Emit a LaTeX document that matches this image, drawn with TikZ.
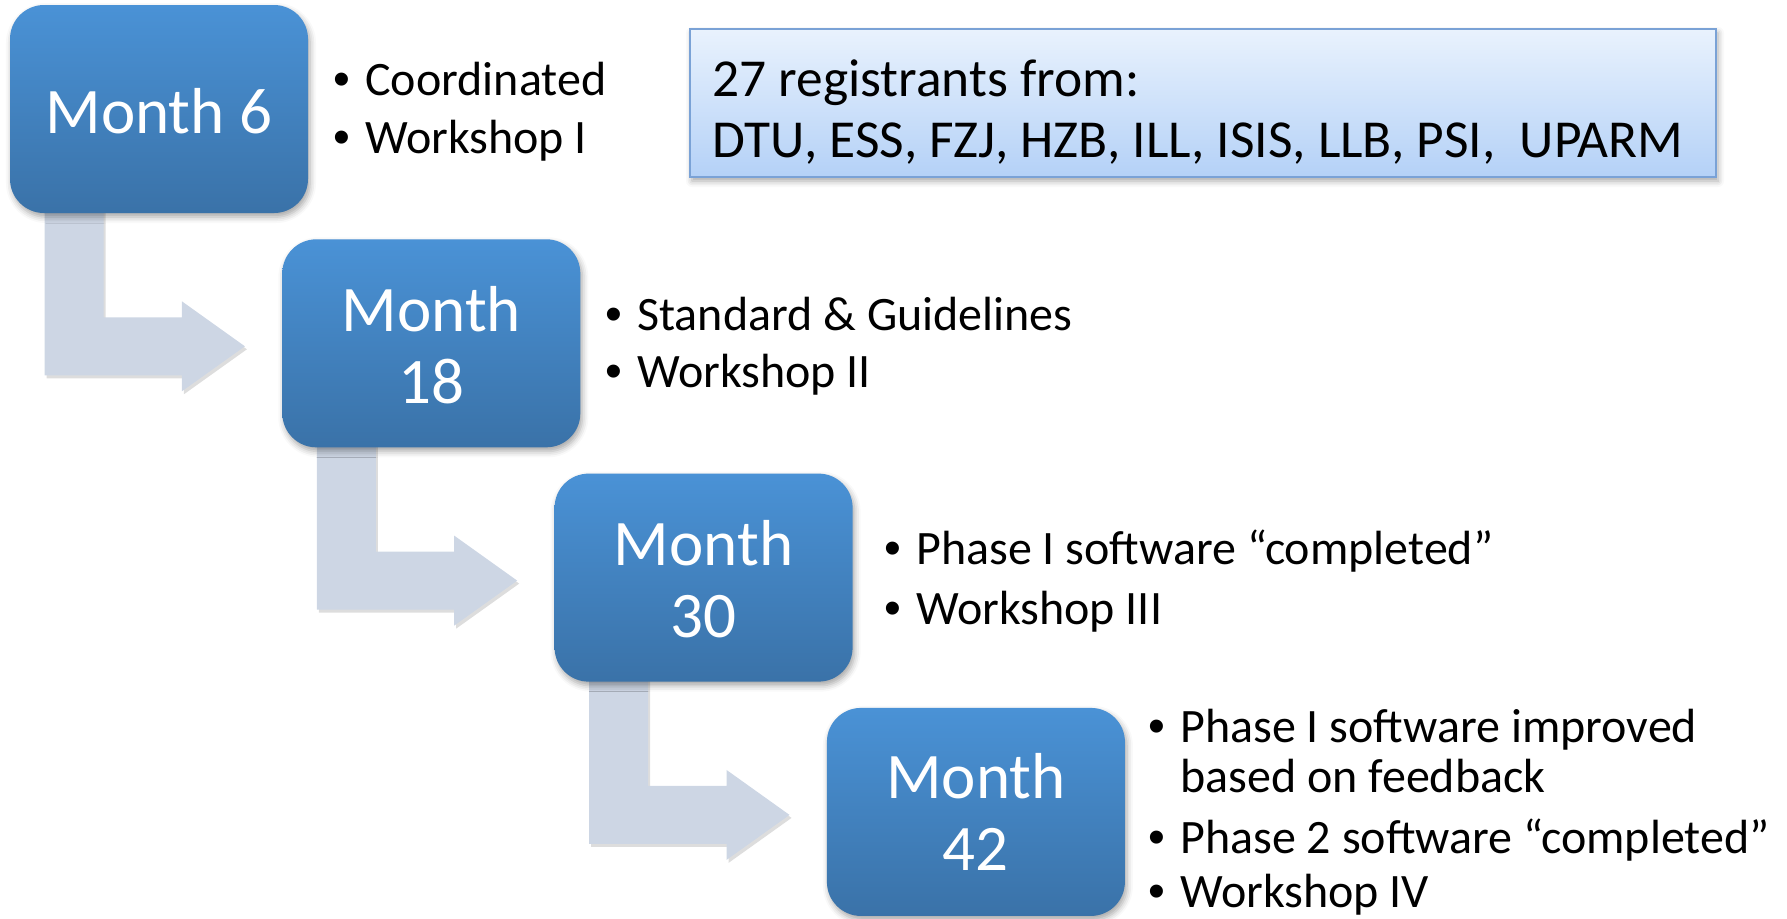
\documentclass[tikz,border=0pt]{standalone}
\usepackage{fontspec}
\setmainfont{Carlito}
\newfontfamily\bulletfont{Liberation Sans}
\usetikzlibrary{calc,shadows.blur}
\definecolor{boxtop}{RGB}{74,146,214}
\definecolor{boxbot}{RGB}{58,114,168}
\definecolor{arrowc}{RGB}{205,214,228}
\definecolor{infotop}{RGB}{233,242,253}
\definecolor{infobot}{RGB}{180,209,247}
\definecolor{infoborder}{RGB}{122,162,214}
\newcommand\bentarrow[2]{%
  \path ($(#1.south west)+(35,-10)$) coordinate (ta)
        ($(#1.south west)+(94,-10)$) coordinate (tb)
        ($(#2.west)+(-37,3)$) coordinate (tip);
  \path ($(ta |- tip)+(0,29)$) coordinate (p2)
        ($(tip)+(-63,29)$) coordinate (p3)
        ($(tip)+(-63,45)$) coordinate (p4)
        ($(tip)+(-63,-45)$) coordinate (p6)
        ($(tip)+(-63,-29)$) coordinate (p7)
        ($(tb |- tip)+(0,-29)$) coordinate (p8);
  \fill[arrowshadow, transform canvas={xshift=1pt,yshift=-1.5pt}]
    (ta) -- (p2) -- (p3) -- (p4) -- (tip) -- (p6) -- (p7) -- (p8) -- (tb) -- cycle;
  \fill[steparrow]
    (ta) -- (p2) -- (p3) -- (p4) -- (tip) -- (p6) -- (p7) -- (p8) -- (tb) -- cycle;}
\newcommand\bul{\makebox[16pt][l]{\bulletfont •}}
\begin{document}
\begin{tikzpicture}[x=0.5pt,y=-0.5pt,
  slot/.style={rectangle, minimum width=149pt, minimum height=104pt, inner sep=0pt},
  mbox/.style={rectangle, rounded corners=17pt, minimum width=149pt, minimum height=104pt,
    inner sep=0pt, top color=boxtop, bottom color=boxbot,
    blur shadow={shadow xshift=1pt, shadow yshift=-2pt, shadow blur radius=3pt, shadow opacity=35}},
  mlabel/.style={anchor=base, text=white, font=\fontsize{32.5}{39}\selectfont, inner sep=0pt},
  btext/.style={anchor=base west, font=\fontsize{24}{29}\selectfont, inner sep=0pt},
  infobox/.style={rectangle, draw=infoborder, line width=0.9pt, top color=infotop, bottom color=infobot,
    minimum width=513pt, minimum height=74pt, inner sep=0pt,
    blur shadow={shadow xshift=1pt, shadow yshift=-2pt, shadow blur radius=3pt, shadow opacity=35}},
  itext/.style={anchor=base west, font=\fontsize{26.7}{32}\selectfont, inner sep=0pt},
  steparrow/.style={fill=arrowc},
  arrowshadow/.style={fill=black!60, opacity=0.22}
]
\useasboundingbox (0,0) rectangle (1787,918);

% positions of the month boxes
\node[slot] (m1) at (159,109) {};
\node[slot] (m2) at (431.3,343.3) {};
\node[slot] (m3) at (703.6,577.6) {};
\node[slot] (m4) at (975.9,811.9) {};

% connectors (drawn first so the boxes cover their tails)
\bentarrow{m1}{m2}
\bentarrow{m2}{m3}
\bentarrow{m3}{m4}

% month boxes
\node[mbox] (box1) at (m1) {};
\node[mbox] (box2) at (m2) {};
\node[mbox] (box3) at (m3) {};
\node[mbox] (box4) at (m4) {};

\node[mlabel] (l1) at ($(box1.center)+(0,24)$) {Month 6};
\node[mlabel] (l2a) at ($(box2.center)+(0,-12)$) {Month};
\node[mlabel] (l2b) at ($(box2.center)+(0,60)$) {18};
\node[mlabel] (l3a) at ($(box3.center)+(0,-12)$) {Month};
\node[mlabel] (l3b) at ($(box3.center)+(0,60)$) {30};
\node[mlabel] (l4a) at ($(box4.center)+(0,-13)$) {Month};
\node[mlabel] (l4b) at ($(box4.center)+(0,59)$) {42};

% bullets
\node[btext] (b1a) at (333,95) {\bul Coordinated};
\node[btext] (b1b) at (333,153) {\bul Workshop I};
\node[btext] (b2a) at (605,330) {\bul Standard \& Guidelines};
\node[btext] (b2b) at (605,387) {\bul Workshop II};
\node[btext] (b3a) at (884,564) {\bul Phase I software “completed”};
\node[btext] (b3b) at (884,624) {\bul Workshop III};
\node[btext] (b4a) at (1148,742) {\bul Phase I software improved};
\node[btext] (b4b) at (1180,792) {based on feedback};
\node[btext] (b4c) at (1148,853) {\bul Phase 2 software “completed”};
\node[btext] (b4d) at (1148,907) {\bul Workshop IV};

% info box
\node[infobox] (info) at (1203,103) {};
\node[itext] (i1) at (712,96) {27 registrants from:};
\node[itext] (i2) at (712,157) {DTU, ESS, FZJ, HZB, ILL, ISIS, LLB, PSI,\ \ UPARM};
\end{tikzpicture}
\end{document}
